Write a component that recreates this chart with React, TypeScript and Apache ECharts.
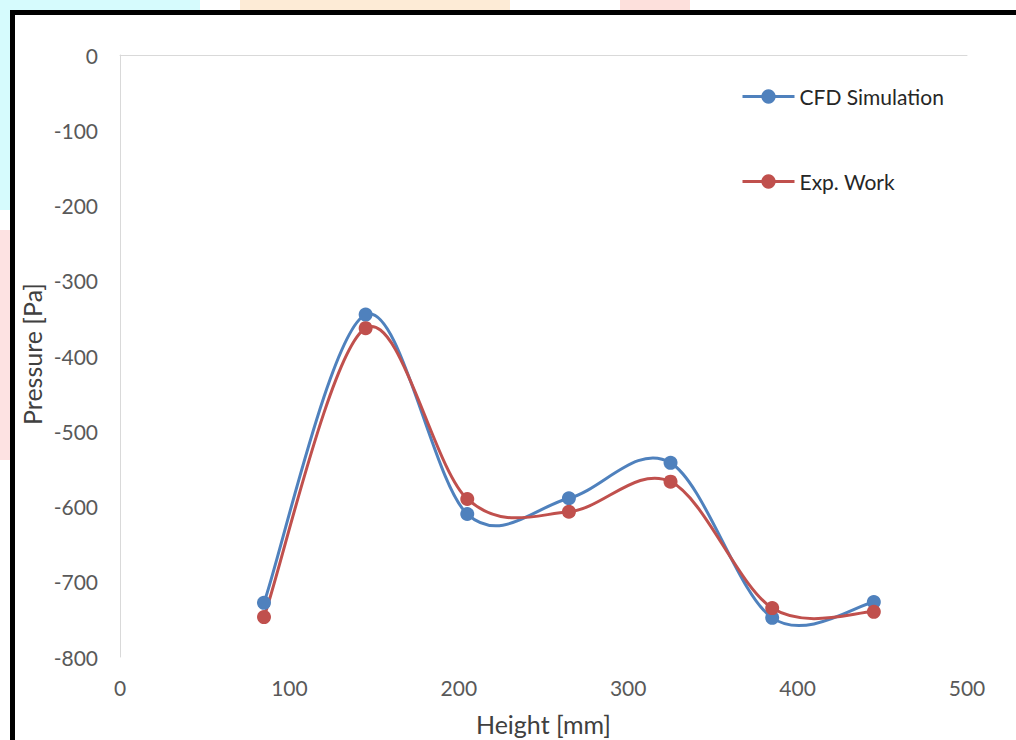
import React, { useEffect, useRef } from "react";
import * as echarts from "echarts";

const heights = [85, 145, 205, 265, 325, 385, 445];
const cfdSimulation = [-728, -345, -610, -589, -542, -748, -727];
const expWork = [-747, -363, -590, -607, -567, -735, -740];
const seriesNames = ["CFD Simulation", "Exp. Work"];
const seriesColors = ["#4f81bd", "#c0504d"];
const xTitle = "Height [mm]";
const yTitle = "Pressure [Pa]";

const FONT = "Lato, 'Open Sans', sans-serif";

function smoothPath(pts: number[][]): string {
  let d = `M${pts[0][0]},${pts[0][1]}`;
  for (let i = 0; i < pts.length - 1; i++) {
    const p0 = pts[i - 1] || pts[i];
    const p1 = pts[i];
    const p2 = pts[i + 1];
    const p3 = pts[i + 2] || pts[i + 1];
    const c1x = p1[0] + (p2[0] - p0[0]) / 6;
    const c1y = p1[1] + (p2[1] - p0[1]) / 6;
    const c2x = p2[0] - (p3[0] - p1[0]) / 6;
    const c2y = p2[1] - (p3[1] - p1[1]) / 6;
    d += ` C${c1x},${c1y} ${c2x},${c2y} ${p2[0]},${p2[1]}`;
  }
  return d;
}

export default function App() {
  const ref = useRef<HTMLDivElement>(null);
  useEffect(() => {
    document.body.style.margin = "0";
    const chart = echarts.init(ref.current!, undefined, { renderer: "svg" });
    const curve = (ys: number[], color: string, id: string) => ({
      type: "custom",
      name: id,
      silent: true,
      clip: false,
      data: heights.map((h, i) => [h, ys[i]]),
      renderItem: (params: any, api: any) => {
        if (params.dataIndex !== 0) return null;
        const pts = heights.map((h, i) => api.coord([h, ys[i]]));
        return {
          type: "path",
          shape: { pathData: smoothPath(pts) },
          style: { stroke: color, lineWidth: 3, fill: "none" },
        };
      },
    });
    const markers = (name: string, ys: number[], color: string) => ({
      name,
      type: "line",
      data: heights.map((h, i) => [h, ys[i]]),
      symbol: "circle",
      symbolSize: 14,
      itemStyle: { color },
      lineStyle: { color, width: 3, opacity: 0 },
    });
    chart.setOption({
      animation: false,
      backgroundColor: "#ffffff",
      grid: { left: 120, top: 55, width: 847, height: 602, outerBoundsMode: "none", containLabel: false },
      graphic: [
        { type: "rect", shape: { x: 0, y: 0, width: 200, height: 10 }, style: { fill: "#d6fbfd" }, z: -1 },
        { type: "rect", shape: { x: 240, y: 0, width: 270, height: 10 }, style: { fill: "#fdebd6" }, z: -1 },
        { type: "rect", shape: { x: 620, y: 0, width: 70, height: 10 }, style: { fill: "#fde0dc" }, z: -1 },
        { type: "rect", shape: { x: 0, y: 0, width: 10, height: 210 }, style: { fill: "#d6fbfd" }, z: -1 },
        { type: "rect", shape: { x: 0, y: 230, width: 10, height: 230 }, style: { fill: "#fde2e2" }, z: -1 },
        {
          type: "rect",
          shape: { x: 12.5, y: 12.5, width: 1100, height: 900 },
          style: { fill: "none", stroke: "#000000", lineWidth: 5 },
        },
        {
          type: "text",
          x: 32,
          y: 354,
          rotation: Math.PI / 2,
          style: {
            text: yTitle,
            font: `25px ${FONT}`,
            fill: "#404040",
            align: "center",
            verticalAlign: "middle",
          },
        },
      ],
      legend: {
        orient: "vertical",
        left: 736,
        top: 81,
        itemWidth: 52,
        itemHeight: 18,
        itemGap: 64,
        data: seriesNames,
        lineStyle: { width: 3, opacity: 1 },
        textStyle: { fontFamily: FONT, fontSize: 21, color: "#262626" },
      },
      xAxis: [
        {
          type: "value",
          position: "bottom",
          min: 0,
          max: 500,
          interval: 100,
          axisLine: { show: false, onZero: false },
          axisTick: { show: false },
          splitLine: { show: false },
          axisLabel: { margin: 20, fontFamily: FONT, fontSize: 21, color: "#595959" },
          name: xTitle,
          nameLocation: "middle",
          nameGap: 54,
          nameTextStyle: { fontFamily: FONT, fontSize: 25, color: "#404040" },
        },
        {
          type: "value",
          position: "top",
          min: 0,
          max: 500,
          axisLine: { show: true, onZero: false, lineStyle: { color: "#d9d9d9", width: 1 } },
          axisTick: { show: false },
          axisLabel: { show: false },
          splitLine: { show: false },
        },
      ],
      yAxis: {
        type: "value",
        min: -800,
        max: 0,
        interval: 100,
        axisLine: { show: true, onZero: false, lineStyle: { color: "#d9d9d9", width: 1 } },
        axisTick: { show: false },
        splitLine: { show: false },
        axisLabel: { margin: 22, fontFamily: FONT, fontSize: 21, color: "#595959" },
      },
      series: [
        curve(cfdSimulation, seriesColors[0], "cfd-curve"),
        curve(expWork, seriesColors[1], "exp-curve"),
        markers(seriesNames[0], cfdSimulation, seriesColors[0]),
        markers(seriesNames[1], expWork, seriesColors[1]),
      ],
    });
    return () => chart.dispose();
  }, []);
  return (
    <div
      ref={ref}
      style={{ position: "absolute", left: 0, top: 0, width: 1016, height: 740 }}
    />
  );
}
